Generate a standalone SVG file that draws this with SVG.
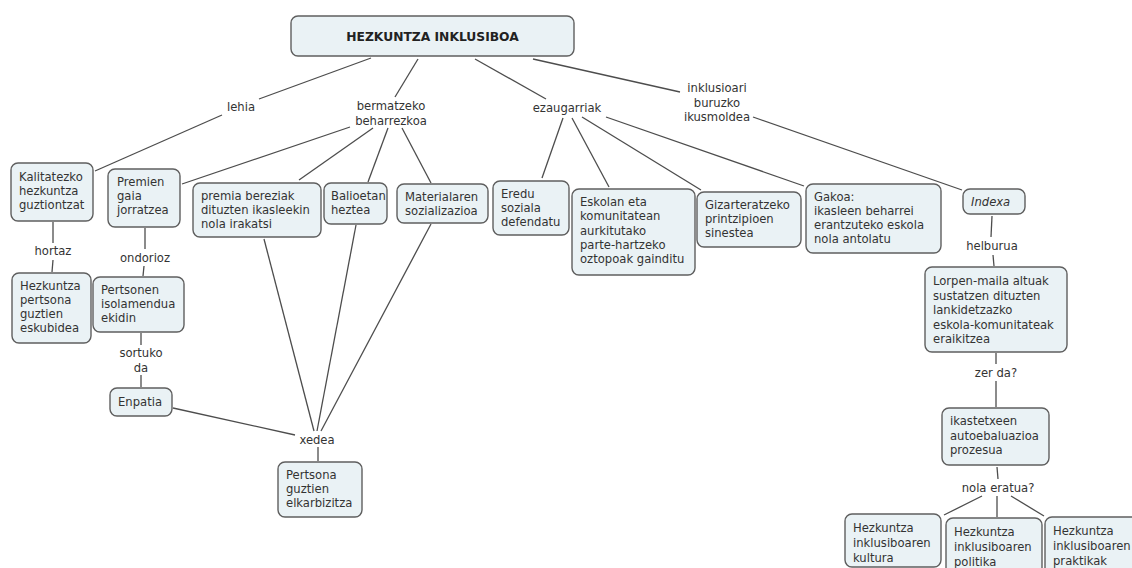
<svg xmlns="http://www.w3.org/2000/svg" width="1132" height="568" viewBox="0 0 1132 568">
<style>
  .bg{fill:#ffffff}
  .box{fill:#eaf2f5;stroke:#5f5f5f;stroke-width:1.4}
  .t{font-family:"DejaVu Sans",Verdana,sans-serif;font-size:11.6px;fill:#333333}
  .lbl{font-family:"DejaVu Sans",Verdana,sans-serif;font-size:11.6px;fill:#333333;text-anchor:middle}
  .root{font-family:"DejaVu Sans",Verdana,sans-serif;font-size:12.3px;font-weight:bold;fill:#222222;text-anchor:middle}
  .it{font-style:italic}
  .ln{stroke:#4d4d4d;stroke-width:1.3;fill:none}
</style>
<rect class="bg" x="0" y="0" width="1132" height="568"/>

<g id="connectors">
  <line class="ln" x1="371" y1="58" x2="259" y2="99"/>
  <line class="ln" x1="222" y1="115" x2="95" y2="171"/>
  <line class="ln" x1="418" y1="59" x2="395" y2="97"/>
  <line class="ln" x1="350" y1="127" x2="182" y2="184"/>
  <line class="ln" x1="373" y1="128" x2="299" y2="180"/>
  <line class="ln" x1="388" y1="128" x2="368" y2="182"/>
  <line class="ln" x1="402" y1="128" x2="431" y2="183"/>
  <line class="ln" x1="475" y1="59" x2="546" y2="99"/>
  <line class="ln" x1="563" y1="118" x2="542" y2="178"/>
  <line class="ln" x1="572" y1="118" x2="609" y2="187"/>
  <line class="ln" x1="582" y1="117" x2="701" y2="190"/>
  <line class="ln" x1="606" y1="117" x2="804" y2="186"/>
  <line class="ln" x1="533" y1="59" x2="680" y2="92"/>
  <line class="ln" x1="753" y1="117" x2="962" y2="190"/>
  <line class="ln" x1="992" y1="216" x2="991" y2="237"/>
  <line class="ln" x1="993" y1="255" x2="994" y2="266"/>
  <line class="ln" x1="996" y1="353" x2="996" y2="364"/>
  <line class="ln" x1="996" y1="381" x2="996" y2="407"/>
  <line class="ln" x1="997" y1="467" x2="998" y2="479"/>
  <line class="ln" x1="982" y1="496" x2="944" y2="515"/>
  <line class="ln" x1="997" y1="496" x2="997" y2="517"/>
  <line class="ln" x1="1011" y1="496" x2="1044" y2="516"/>
  <line class="ln" x1="53" y1="222" x2="53" y2="243"/>
  <line class="ln" x1="53" y1="260" x2="52" y2="272"/>
  <line class="ln" x1="145" y1="228" x2="145" y2="249"/>
  <line class="ln" x1="144" y1="266" x2="143" y2="276"/>
  <line class="ln" x1="141" y1="333" x2="141" y2="345"/>
  <line class="ln" x1="141" y1="375" x2="141" y2="387"/>
  <line class="ln" x1="173" y1="408" x2="295" y2="435"/>
  <line class="ln" x1="264" y1="239" x2="314" y2="431"/>
  <line class="ln" x1="356" y1="225" x2="317" y2="431"/>
  <line class="ln" x1="431" y1="224" x2="321" y2="431"/>
  <line class="ln" x1="318" y1="447" x2="318" y2="461"/>
  <text class="lbl" x="241" y="111">lehia</text>
  <text class="lbl" x="391" y="110">bermatzeko</text>
  <text class="lbl" x="391" y="125">beharrezkoa</text>
  <text class="lbl" x="567" y="112">ezaugarriak</text>
  <text class="lbl" x="717" y="92">inklusioari</text>
  <text class="lbl" x="717" y="107">buruzko</text>
  <text class="lbl" x="717" y="121">ikusmoldea</text>
  <text class="lbl" x="53" y="255">hortaz</text>
  <text class="lbl" x="145" y="262">ondorioz</text>
  <text class="lbl" x="141" y="357">sortuko</text>
  <text class="lbl" x="141" y="372">da</text>
  <text class="lbl" x="317" y="444">xedea</text>
  <text class="lbl" x="992" y="250">helburua</text>
  <text class="lbl" x="996" y="377">zer da?</text>
  <text class="lbl" x="998" y="492">nola eratua?</text>
</g>

<g id="root">
  <rect class="box" x="291" y="16" width="283" height="40" rx="7"/>
  <text class="root" x="432.5" y="40.5">HEZKUNTZA INKLUSIBOA</text>
</g>
<g id="kalitatezko">
  <rect class="box" x="11" y="163" width="82" height="58" rx="7"/>
  <text class="t" x="19" y="181">Kalitatezko</text>
  <text class="t" x="19" y="195">hezkuntza</text>
  <text class="t" x="19" y="209">guztiontzat</text>
</g>
<g id="premien">
  <rect class="box" x="108" y="169" width="72" height="58" rx="7"/>
  <text class="t" x="117" y="186">Premien</text>
  <text class="t" x="117" y="200">gaia</text>
  <text class="t" x="117" y="214">jorratzea</text>
</g>
<g id="premia">
  <rect class="box" x="193" y="183" width="128" height="54" rx="7"/>
  <text class="t" x="201" y="200">premia bereziak</text>
  <text class="t" x="201" y="214">dituzten ikasleekin</text>
  <text class="t" x="201" y="228">nola irakatsi</text>
</g>
<g id="balioetan">
  <rect class="box" x="324" y="183" width="63" height="41" rx="7"/>
  <text class="t" x="331" y="200">Balioetan</text>
  <text class="t" x="331" y="214">heztea</text>
</g>
<g id="materialaren">
  <rect class="box" x="397" y="184" width="91" height="39" rx="7"/>
  <text class="t" x="405" y="201">Materialaren</text>
  <text class="t" x="405" y="215">sozializazioa</text>
</g>
<g id="eredu">
  <rect class="box" x="493" y="181" width="76" height="54" rx="7"/>
  <text class="t" x="501" y="198">Eredu</text>
  <text class="t" x="501" y="212">soziala</text>
  <text class="t" x="501" y="226">defendatu</text>
</g>
<g id="eskolan">
  <rect class="box" x="572" y="189" width="123" height="86" rx="7"/>
  <text class="t" x="580" y="206">Eskolan eta</text>
  <text class="t" x="580" y="220.3">komunitatean</text>
  <text class="t" x="580" y="234.6">aurkitutako</text>
  <text class="t" x="580" y="248.9">parte-hartzeko</text>
  <text class="t" x="580" y="263.2">oztopoak gainditu</text>
</g>
<g id="gizarteratzeko">
  <rect class="box" x="697" y="192" width="104" height="55" rx="7"/>
  <text class="t" x="705" y="209">Gizarteratzeko</text>
  <text class="t" x="705" y="223">printzipioen</text>
  <text class="t" x="705" y="237">sinestea</text>
</g>
<g id="gakoa">
  <rect class="box" x="806" y="184" width="135" height="69" rx="7"/>
  <text class="t" x="814" y="201">Gakoa:</text>
  <text class="t" x="814" y="215">ikasleen beharrei</text>
  <text class="t" x="814" y="229">erantzuteko eskola</text>
  <text class="t" x="814" y="243">nola antolatu</text>
</g>
<g id="indexa">
  <rect class="box" x="963" y="189" width="62" height="25" rx="7"/>
  <text class="t it" x="971" y="206">Indexa</text>
</g>
<g id="lorpen">
  <rect class="box" x="925" y="267" width="142" height="85" rx="7"/>
  <text class="t" x="933" y="285">Lorpen-maila altuak</text>
  <text class="t" x="933" y="299.5">sustatzen dituzten</text>
  <text class="t" x="933" y="314">lankidetzazko</text>
  <text class="t" x="933" y="328.5">eskola-komunitateak</text>
  <text class="t" x="933" y="343">eraikitzea</text>
</g>
<g id="ikastetxeen">
  <rect class="box" x="942" y="408" width="107" height="57" rx="7"/>
  <text class="t" x="950" y="425">ikastetxeen</text>
  <text class="t" x="950" y="439.5">autoebaluazioa</text>
  <text class="t" x="950" y="454">prozesua</text>
</g>
<g id="kultura">
  <rect class="box" x="845" y="514" width="96" height="53" rx="7"/>
  <text class="t" x="853" y="532">Hezkuntza</text>
  <text class="t" x="853" y="547">inklusiboaren</text>
  <text class="t" x="853" y="562">kultura</text>
</g>
<g id="politika">
  <rect class="box" x="946" y="518" width="96" height="58" rx="7"/>
  <text class="t" x="954" y="536">Hezkuntza</text>
  <text class="t" x="954" y="551">inklusiboaren</text>
  <text class="t" x="954" y="566">politika</text>
</g>
<g id="praktikak">
  <rect class="box" x="1045" y="517" width="96" height="58" rx="7"/>
  <text class="t" x="1053" y="535">Hezkuntza</text>
  <text class="t" x="1053" y="550">inklusiboaren</text>
  <text class="t" x="1053" y="565">praktikak</text>
</g>
<g id="hezkuntza-pertsona">
  <rect class="box" x="12" y="273" width="79" height="70" rx="7"/>
  <text class="t" x="20" y="290">Hezkuntza</text>
  <text class="t" x="20" y="304">pertsona</text>
  <text class="t" x="20" y="318">guztien</text>
  <text class="t" x="20" y="332">eskubidea</text>
</g>
<g id="pertsonen">
  <rect class="box" x="93" y="277" width="91" height="55" rx="7"/>
  <text class="t" x="101" y="294">Pertsonen</text>
  <text class="t" x="101" y="308">isolamendua</text>
  <text class="t" x="101" y="322">ekidin</text>
</g>
<g id="enpatia">
  <rect class="box" x="110" y="388" width="62" height="28" rx="7"/>
  <text class="t" x="118" y="406">Enpatia</text>
</g>
<g id="elkarbizitza">
  <rect class="box" x="278" y="462" width="84" height="55" rx="7"/>
  <text class="t" x="286" y="479">Pertsona</text>
  <text class="t" x="286" y="493">guztien</text>
  <text class="t" x="286" y="507">elkarbizitza</text>
</g>
</svg>
